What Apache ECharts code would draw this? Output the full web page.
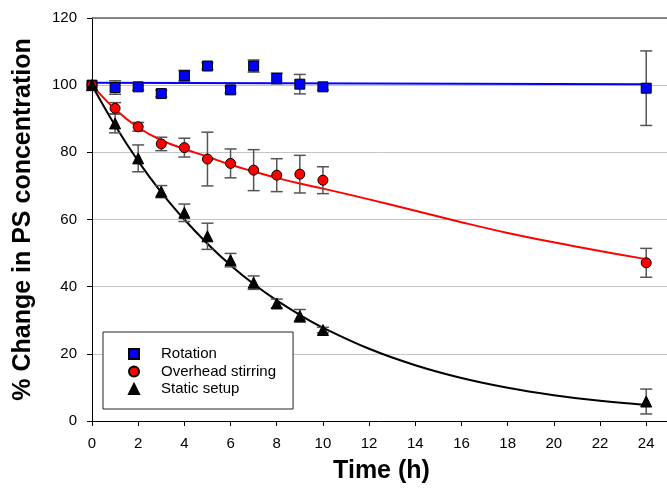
<!DOCTYPE html>
<html>
<head>
<meta charset="utf-8">
<script src="https://cdn.jsdelivr.net/npm/echarts/dist/echarts.min.js"></script>
<style>
  html, body { margin: 0; padding: 0; background: #fff; }
  #chart { width: 667px; height: 496px; }
</style>
</head>
<body>
<div id="chart"></div>
<script>
// measured time points (h)
var time = [0, 1, 2, 3, 4, 5, 6, 7, 8, 9, 10, 24];

// % change in PS concentration, mean and error
var rotationMean = [100, 99.3, 99.5, 97.5, 102.8, 105.7, 98.6, 105.7, 102.0, 100.3, 99.5, 99.1];
var rotationErr = [0, 2.0, 1.0, 1.0, 1.6, 1.0, 1.0, 1.8, 1.6, 2.9, 1.0, 11.1];
var stirMean = [100, 93.1, 87.6, 82.5, 81.4, 78.0, 76.7, 74.7, 73.2, 73.5, 71.7, 47.1];
var stirErr = [0, 1.7, 1.3, 2.0, 2.8, 8.0, 4.3, 6.1, 4.9, 5.6, 4.0, 4.3];
var staticMean = [100, 88.6, 78.2, 68.3, 62.0, 55.0, 47.9, 41.2, 35.0, 31.3, 27.1, 5.8];
var staticErr = [0, 2.8, 4.0, 1.8, 2.6, 3.9, 2.0, 2.0, 1.3, 1.9, 0.8, 3.7];

// fitted curves
var rotationFitTime = [0, 24];
var rotationFit = [100.7, 100.3];
var fitTime = [0, 1, 2, 3, 4, 5, 6, 7, 8, 9, 10, 12, 14, 16, 18, 20, 22, 24];
var stirFit = [100, 92.8, 87.4, 83.6, 81.0, 78.7, 76.3, 74.3, 72.4, 70.7, 69.2, 66.0, 62.6, 59.2, 56.0, 53.2, 50.6, 48.2];
var staticFit = [100, 88.0, 77.4, 68.1, 60.0, 52.8, 46.4, 40.8, 35.9, 31.6, 27.8, 21.5, 16.6, 12.8, 9.9, 7.7, 6.0, 4.8];

var xTicks = [0, 2, 4, 6, 8, 10, 12, 14, 16, 18, 20, 22, 24];
var yTicks = [0, 20, 40, 60, 80, 100, 120];

var font = 'Liberation Sans, Arial, sans-serif';
var xMax = 24.9; // plot is cut at the right edge of the picture

function pairs(xs, ys) {
    return xs.map(function (x, i) { return [x, ys[i]]; });
}

// error bars drawn as a custom series
function errorBars(mean, err) {
    return {
        type: 'custom',
        silent: true,
        z: 3,
        encode: { x: 0, y: 1 },
        data: time.map(function (t, i) { return [t, mean[i], err[i]]; }),
        renderItem: function (params, api) {
            var x = api.value(0), y = api.value(1), e = api.value(2);
            if (!e) return;
            var hi = api.coord([x, y + e]);
            var lo = api.coord([x, y - e]);
            var w = 6;
            var style = { stroke: '#555', lineWidth: 1.5 };
            return {
                type: 'group',
                children: [
                    { type: 'line', shape: { x1: hi[0], y1: hi[1], x2: lo[0], y2: lo[1] }, style: style },
                    { type: 'line', shape: { x1: hi[0] - w, y1: hi[1], x2: hi[0] + w, y2: hi[1] }, style: style },
                    { type: 'line', shape: { x1: lo[0] - w, y1: lo[1], x2: lo[0] + w, y2: lo[1] }, style: style }
                ]
            };
        }
    };
}

function fitLine(name, xs, ys, color) {
    return {
        name: name,
        type: 'line',
        data: pairs(xs, ys),
        smooth: 0.4,
        showSymbol: false,
        silent: true,
        z: 2,
        lineStyle: { color: color, width: 2 }
    };
}

function markers(name, ys, symbol, size, color) {
    return {
        name: name,
        type: 'scatter',
        data: pairs(time, ys),
        symbol: symbol,
        symbolSize: size,
        z: 4,
        itemStyle: { color: color, borderColor: '#000', borderWidth: 1, opacity: 1 }
    };
}

var chart = echarts.init(document.getElementById('chart'));

var option = {
    animation: false,
    backgroundColor: '#fff',
    grid: {
        left: 92,
        right: 0,
        top: 18,
        bottom: 75
    },
    legend: {
        data: ['Rotation', 'Overhead stirring', 'Static setup'],
        orient: 'vertical',
        left: 103,
        top: 332,
        padding: [14.5, 17, 12.5, 25],
        itemGap: 2.5,
        itemWidth: 10,
        itemHeight: 10,
        backgroundColor: '#fff',
        borderColor: '#222',
        borderWidth: 1,
        borderRadius: 0,
        selectedMode: false,
        textStyle: { fontFamily: font, fontSize: 15, color: '#000', padding: [0, 0, 0, 17] }
    },
    xAxis: [{
        type: 'value',
        min: 0,
        max: xMax,
        interval: 2,
        name: 'Time (h)',
        nameLocation: 'middle',
        nameGap: 38,
        nameTextStyle: { fontFamily: font, fontSize: 25, fontWeight: 'bold', color: '#000', padding: [0, 0, 0, 4] },
        axisLine: { lineStyle: { color: '#000', width: 1 } },
        axisTick: { show: true, length: 5, customValues: xTicks, lineStyle: { color: '#000' } },
        axisLabel: {
            margin: 15,
            fontFamily: font,
            fontSize: 15,
            color: '#000',
            customValues: xTicks
        },
        splitLine: { show: false }
    }, {
        // top frame line
        type: 'value',
        position: 'top',
        min: 0,
        max: xMax,
        axisLine: { show: true, lineStyle: { color: '#666', width: 1.5 } },
        axisTick: { show: false },
        axisLabel: { show: false },
        splitLine: { show: false }
    }],
    yAxis: {
        type: 'value',
        min: 0,
        max: 120,
        interval: 20,
        name: '% Change in PS concentration',
        nameLocation: 'middle',
        nameGap: 56,
        nameTextStyle: { fontFamily: font, fontSize: 25, fontWeight: 'bold', color: '#000' },
        axisLine: { show: true, lineStyle: { color: '#000', width: 1 } },
        axisTick: { show: true, length: 5, lineStyle: { color: '#000' } },
        axisLabel: {
            margin: 15,
            fontFamily: font,
            fontSize: 15,
            color: '#000',
            formatter: function (v) { return yTicks.indexOf(v) >= 0 ? String(v) : ''; }
        },
        splitLine: { show: true, lineStyle: { color: '#c4c4c4', width: 1 } }
    },
    series: [
        fitLine('Rotation fit', rotationFitTime, rotationFit, '#0000ff'),
        fitLine('Overhead stirring fit', fitTime, stirFit, '#ff0000'),
        fitLine('Static setup fit', fitTime, staticFit, '#000000'),
        errorBars(rotationMean, rotationErr),
        errorBars(stirMean, stirErr),
        errorBars(staticMean, staticErr),
        markers('Rotation', rotationMean, 'rect', 10, '#0000ff'),
        markers('Overhead stirring', stirMean, 'circle', 10, '#ff0000'),
        markers('Static setup', staticMean, 'triangle', 11, '#000000')
    ]
};

chart.setOption(option);
</script>
</body>
</html>
